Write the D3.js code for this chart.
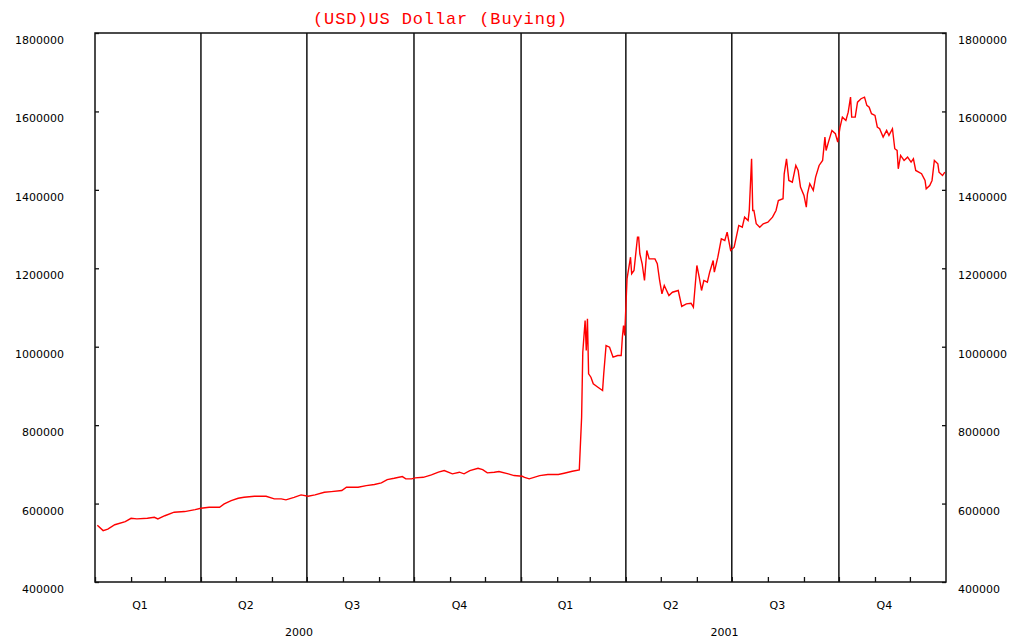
<!DOCTYPE html>
<html>
<head>
<meta charset="utf-8">
<script src="https://cdn.jsdelivr.net/npm/d3@7"></script>
<style>
  body { margin: 0; background: #fff; }
  svg { display: block; }
</style>
</head>
<body>
<script>
// daily-ish readings of the buying rate
const dates = [
  "2000-01-03","2000-01-08","2000-01-12","2000-01-18","2000-01-27","2000-02-01","2000-02-06","2000-02-15",
  "2000-02-21","2000-02-24","2000-03-01","2000-03-09","2000-03-18","2000-03-27","2000-04-01","2000-04-08",
  "2000-04-17","2000-04-21","2000-04-27","2000-05-03","2000-05-08","2000-05-17","2000-05-27","2000-06-03",
  "2000-06-09","2000-06-13","2000-06-20","2000-06-26","2000-07-02","2000-07-08","2000-07-16","2000-07-22",
  "2000-07-31","2000-08-04","2000-08-14","2000-08-21","2000-08-28","2000-09-03","2000-09-08","2000-09-14",
  "2000-09-21","2000-09-24","2000-09-29","2000-10-02","2000-10-09","2000-10-16","2000-10-22","2000-10-27",
  "2000-11-03","2000-11-09","2000-11-13","2000-11-18","2000-11-25","2000-11-29","2000-12-03","2000-12-09",
  "2000-12-13","2000-12-21","2000-12-26",
  "2001-01-02","2001-01-04","2001-01-08","2001-01-17","2001-01-24","2001-02-02","2001-02-07","2001-02-14",
  "2001-02-20","2001-02-22","2001-02-23","2001-02-25","2001-02-26","2001-02-27","2001-02-28","2001-03-02",
  "2001-03-04","2001-03-08","2001-03-12","2001-03-13","2001-03-15","2001-03-18","2001-03-21","2001-03-25",
  "2001-03-28","2001-03-29","2001-03-30","2001-03-31","2001-04-02","2001-04-05","2001-04-06","2001-04-08",
  "2001-04-11","2001-04-12","2001-04-13","2001-04-15","2001-04-17","2001-04-19","2001-04-21","2001-04-26",
  "2001-04-28","2001-04-30","2001-05-02","2001-05-04","2001-05-08","2001-05-11","2001-05-16","2001-05-19",
  "2001-05-23","2001-05-27","2001-05-29","2001-06-01","2001-06-03","2001-06-05","2001-06-07","2001-06-10",
  "2001-06-12","2001-06-15","2001-06-16","2001-06-19","2001-06-22","2001-06-25","2001-06-27","2001-06-30",
  "2001-07-03","2001-07-07","2001-07-10","2001-07-12","2001-07-15","2001-07-16","2001-07-18","2001-07-19",
  "2001-07-20","2001-07-22","2001-07-25","2001-07-28","2001-08-01","2001-08-05","2001-08-08","2001-08-10",
  "2001-08-14","2001-08-15","2001-08-17","2001-08-19","2001-08-22","2001-08-25","2001-08-27","2001-08-29",
  "2001-09-01","2001-09-03","2001-09-04","2001-09-06","2001-09-09","2001-09-11","2001-09-14","2001-09-17",
  "2001-09-19","2001-09-20","2001-09-22","2001-09-25","2001-09-28","2001-09-30","2001-10-02","2001-10-04",
  "2001-10-07","2001-10-09","2001-10-11","2001-10-12","2001-10-15","2001-10-17","2001-10-20","2001-10-23",
  "2001-10-25","2001-10-27","2001-10-29","2001-11-01","2001-11-03","2001-11-05","2001-11-08","2001-11-11",
  "2001-11-13","2001-11-16","2001-11-18","2001-11-20","2001-11-21","2001-11-23","2001-11-26","2001-11-29",
  "2001-12-02","2001-12-04","2001-12-06","2001-12-11","2001-12-14","2001-12-15","2001-12-18","2001-12-20",
  "2001-12-22","2001-12-25","2001-12-26","2001-12-29","2001-12-31"
];

const rates = [
  545000,531000,535000,546000,554000,562500,561000,562500,
  565000,561000,569000,578000,579600,584700,588000,590600,
  590600,599000,607600,613500,616000,618600,618600,612000,
  612000,609400,616000,622200,618600,622200,628800,630600,
  633200,641600,641600,645900,648500,652800,661200,664500,
  668900,663000,663000,665600,667000,673200,680000,684200,
  675800,680000,675800,684200,690000,686700,678300,680000,
  681600,675800,671400,
  669600,667000,663000,671400,674000,674000,677300,682400,
  686000,820100,986000,1066800,990300,1071000,931000,922200,
  905400,896700,888300,931000,1003000,998700,973200,977500,
  977500,1024200,1054000,1028500,1173000,1228300,1186000,1194400,
  1279300,1279300,1237000,1211500,1168900,1245400,1224000,1224000,
  1211500,1168900,1135000,1156000,1130600,1139000,1143400,1102600,
  1109400,1111000,1100800,1207200,1177300,1143400,1168900,1164600,
  1190000,1219900,1190000,1228300,1275300,1271000,1292100,1245400,
  1253800,1309200,1304800,1330400,1321900,1347400,1479300,1347400,
  1347400,1313500,1304800,1313500,1317600,1330400,1347400,1372900,
  1377300,1440000,1479300,1424000,1419700,1462200,1449500,1407000,
  1385700,1355900,1390000,1415600,1398500,1432400,1462200,1475000,
  1534500,1500500,1521700,1551500,1543100,1521700,1559900,1585400,
  1576900,1598200,1636500,1585400,1585400,1623700,1632400,1636500,
  1615300,1610900,1594100,1589800,1559900,1555900,1534500,1551500,
  1538800,1555900,1504900,1500500,1453800,1487800,1475000,1483400,
  1470700,1479300,1449500,1441100,1424000,1402800,1411200,1424000,
  1475000,1466500,1445100,1436500,1445100
];

const yTicks = [400000, 600000, 800000, 1000000, 1200000, 1400000, 1600000, 1800000];
const quarterLabels = ["Q1", "Q2", "Q3", "Q4"];
const yearLabels = ["2000", "2001"];
const title = "(USD)US Dollar (Buying)";

const width = 1016, height = 641;
const plotLeft = 95, plotRight = 946, plotTop = 33, plotBottom = 582;

const parse = d3.utcParse("%Y-%m-%d");
const data = dates.map(function (d, i) { return { date: parse(d), value: rates[i] }; });

const start = new Date(Date.UTC(2000, 0, 1));
const end = new Date(Date.UTC(2002, 0, 1));

var x = d3.scaleUtc().domain([start, end]).range([plotLeft, plotRight]);
var y = d3.scaleLinear().domain([400000, 1800000]).range([plotBottom, plotTop]);

var svg = d3.select("body").append("svg")
  .attr("width", width)
  .attr("height", height)
  .style("font-family", "'DejaVu Sans', sans-serif");

// quarter separators
var quarters = d3.utcMonths(start, end, 3);
svg.append("g").selectAll("line")
  .data(quarters.slice(1))
  .enter().append("line")
  .attr("x1", function (d) { return x(d); })
  .attr("x2", function (d) { return x(d); })
  .attr("y1", plotTop)
  .attr("y2", plotBottom)
  .attr("stroke", "#111")
  .attr("stroke-width", 1.5);

// the series
var line = d3.line()
  .x(function (d) { return x(d.date); })
  .y(function (d) { return y(d.value); });

svg.append("path")
  .datum(data)
  .attr("fill", "none")
  .attr("stroke", "#ff0000")
  .attr("stroke-width", 1.4)
  .attr("d", line);

// axes
var fmt = d3.format("d");

var leftAxis = d3.axisLeft(y).tickValues(yTicks).tickFormat(fmt).tickSize(-4).tickSizeOuter(0).tickPadding(31);
var gl = svg.append("g").attr("transform", "translate(" + plotLeft + ",0)").call(leftAxis);

var rightAxis = d3.axisRight(y).tickValues(yTicks).tickFormat(fmt).tickSize(-4).tickSizeOuter(0).tickPadding(12);
var gr = svg.append("g").attr("transform", "translate(" + plotRight + ",0)").call(rightAxis);

var bottomAxis = d3.axisBottom(x).tickValues(d3.utcMonths(start, end)).tickFormat("").tickSize(-5).tickSizeOuter(0);
var gb = svg.append("g").attr("transform", "translate(0," + plotBottom + ")").call(bottomAxis);

[gl, gr].forEach(function (g) {
  g.selectAll("text").attr("dy", "0.95em").attr("font-size", 11).attr("font-family", "'DejaVu Sans', sans-serif").attr("fill", "#000");
});
[gl, gr, gb].forEach(function (g) {
  g.select(".domain").remove();
  g.selectAll(".tick line").attr("stroke", "#111").attr("stroke-width", 1.3);
});

// frame
svg.append("rect")
  .attr("x", plotLeft)
  .attr("y", plotTop)
  .attr("width", plotRight - plotLeft)
  .attr("height", plotBottom - plotTop)
  .attr("fill", "none")
  .attr("stroke", "#111")
  .attr("stroke-width", 1.5);

// quarter labels
svg.append("g").selectAll("text")
  .data(quarters)
  .enter().append("text")
  .attr("x", function (d) {
    var next = d3.utcMonth.offset(d, 3);
    return (x(d) + x(next)) / 2 - 8;
  })
  .attr("y", 609)
  .attr("text-anchor", "middle")
  .attr("font-size", 11)
  .text(function (d) { return quarterLabels[d.getUTCMonth() / 3]; });

// year labels
svg.append("g").selectAll("text")
  .data(yearLabels)
  .enter().append("text")
  .attr("x", function (d) {
    var a = new Date(Date.UTC(+d, 0, 1)), b = new Date(Date.UTC(+d + 1, 0, 1));
    return (x(a) + x(b)) / 2 - 9;
  })
  .attr("y", 636)
  .attr("text-anchor", "middle")
  .attr("font-size", 11)
  .text(function (d) { return d; });

// title
svg.append("text")
  .attr("x", 440)
  .attr("y", 24)
  .attr("text-anchor", "middle")
  .attr("font-family", "'Liberation Mono', monospace")
  .attr("font-size", 17)
  .attr("textLength", 254)
  .attr("lengthAdjust", "spacing")
  .attr("fill", "#ff0000")
  .text(title);
</script>
</body>
</html>
